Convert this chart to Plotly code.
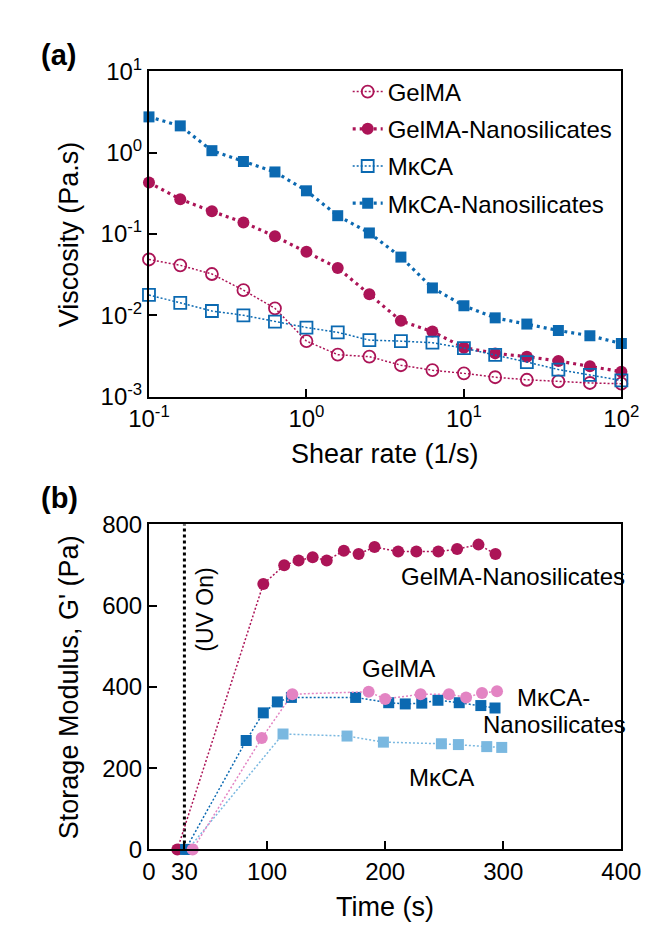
import plotly.graph_objects as go

# ---------------- Panel (a): viscosity vs shear rate ----------------
shear_rate = [0.1, 0.158, 0.251, 0.398, 0.631, 1.0, 1.58, 2.51, 3.98, 6.31,
              10.0, 15.8, 25.1, 39.8, 63.1, 100.0]
visc_gelma = [0.0486, 0.0412, 0.0322, 0.0204, 0.0122, 0.00482, 0.00328, 0.0031,
              0.00243, 0.00211, 0.00193, 0.00173, 0.00161, 0.00154, 0.00147, 0.00144]
visc_gelma_nano = [0.43, 0.268, 0.19, 0.139, 0.0937, 0.0605, 0.0383, 0.0181,
                   0.00855, 0.0063, 0.0040, 0.0034, 0.0031, 0.00274, 0.00236, 0.00202]
visc_mkca = [0.0178, 0.0142, 0.0113, 0.0100, 0.00834, 0.00707, 0.00617, 0.00495,
             0.00481, 0.0046, 0.00394, 0.00325, 0.00266, 0.00215, 0.00185, 0.00158]
visc_mkca_nano = [2.76, 2.14, 1.06, 0.78, 0.58, 0.34, 0.168, 0.103,
                  0.052, 0.0217, 0.0131, 0.0093, 0.0078, 0.0065, 0.0056, 0.0045]

visc_tickvals = [1e-3, 1e-2, 1e-1, 1, 10]
visc_ticktext = ["10<sup>-3</sup>", "10<sup>-2</sup>", "10<sup>-1</sup>", "10<sup>0</sup>", "10<sup>1</sup>"]
rate_tickvals = [0.1, 1, 10, 100]
rate_ticktext = ["10<sup>-1</sup>", "10<sup>0</sup>", "10<sup>1</sup>", "10<sup>2</sup>"]

# ---------------- Panel (b): storage modulus vs time ----------------
t_gelma_nano = [24, 96.8, 114.5, 126.7, 138.6, 150.5, 165, 177.5, 191, 211, 226.4, 245, 260.9, 279, 293.4]
g_gelma_nano = [0, 653, 699, 711, 719, 711, 735, 727, 744, 733, 733, 733, 739, 750, 727]
t_gelma = [37, 95.5, 121.4, 186, 200, 230, 254, 268.5, 282, 294.7]
g_gelma = [0, 274, 382, 388, 370, 382, 382, 374, 385, 389]
t_mkca_nano = [31, 82.3, 96.8, 108.7, 120.6, 175, 203, 217, 231, 244.7, 262.7, 281, 293]
g_mkca_nano = [0, 268, 336, 363, 374, 374, 361, 358, 360, 367, 361, 354, 348]
t_mkca = [33, 113.5, 167.7, 198.5, 247.6, 262, 286, 298.7]
g_mkca = [0, 284, 279, 264, 260, 258, 253, 251]

uv_on_time = 30
time_tickvals = [0, 30, 100, 200, 300, 400]
g_tickvals = [0, 200, 400, 600, 800]

CRIMSON = "#AC1457"
BLUE = "#0B69B1"
LIGHTBLUE = "#7AB8E0"
PINK = "#E384C3"
FONT = "Arial, Liberation Sans, sans-serif"

fig = go.Figure()

# panel a traces
fig.add_trace(go.Scatter(
    x=shear_rate, y=visc_gelma, name="GelMA", mode="lines+markers",
    line=dict(color=CRIMSON, width=1.5, dash="2px,2px"),
    marker=dict(symbol="circle-open", size=12, color=CRIMSON, line=dict(width=1.8)),
    xaxis="x", yaxis="y", cliponaxis=False, legendgroup="a1"))
fig.add_trace(go.Scatter(
    x=shear_rate, y=visc_gelma_nano, name="GelMA-Nanosilicates", mode="lines+markers",
    line=dict(color=CRIMSON, width=3.2, dash="3px,4px"),
    marker=dict(symbol="circle", size=12, color=CRIMSON),
    xaxis="x", yaxis="y", cliponaxis=False, legendgroup="a2"))
fig.add_trace(go.Scatter(
    x=shear_rate, y=visc_mkca, name="M\u03baCA", mode="lines+markers",
    line=dict(color=BLUE, width=1.5, dash="2px,2px"),
    marker=dict(symbol="square-open", size=12, color=BLUE, line=dict(width=1.8)),
    xaxis="x", yaxis="y", cliponaxis=False, legendgroup="a3"))
fig.add_trace(go.Scatter(
    x=shear_rate, y=visc_mkca_nano, name="M\u03baCA-Nanosilicates", mode="lines+markers",
    line=dict(color=BLUE, width=3.2, dash="3px,4px"),
    marker=dict(symbol="square", size=11, color=BLUE),
    xaxis="x", yaxis="y", cliponaxis=False, legendgroup="a4"))

# panel b traces
fig.add_trace(go.Scatter(
    x=[uv_on_time, uv_on_time], y=[0, 800], mode="lines",
    line=dict(color="black", width=3, dash="3px,3px"),
    xaxis="x2", yaxis="y2", showlegend=False, hoverinfo="skip"))
fig.add_trace(go.Scatter(
    x=t_gelma_nano, y=g_gelma_nano, mode="lines+markers", showlegend=False,
    line=dict(color=CRIMSON, width=1.5, dash="2px,2px"),
    marker=dict(symbol="circle", size=12, color=CRIMSON),
    xaxis="x2", yaxis="y2", cliponaxis=False))
fig.add_trace(go.Scatter(
    x=t_mkca, y=g_mkca, mode="lines+markers", showlegend=False,
    line=dict(color=LIGHTBLUE, width=1.5, dash="2px,2px"),
    marker=dict(symbol="square", size=11, color=LIGHTBLUE),
    xaxis="x2", yaxis="y2", cliponaxis=False))
fig.add_trace(go.Scatter(
    x=t_mkca_nano, y=g_mkca_nano, mode="lines+markers", showlegend=False,
    line=dict(color=BLUE, width=1.5, dash="2px,2px"),
    marker=dict(symbol="square", size=11, color=BLUE),
    xaxis="x2", yaxis="y2", cliponaxis=False))
fig.add_trace(go.Scatter(
    x=t_gelma, y=g_gelma, mode="lines+markers", showlegend=False,
    line=dict(color=PINK, width=1.5, dash="2px,2px"),
    marker=dict(symbol="circle", size=12, color=PINK),
    xaxis="x2", yaxis="y2", cliponaxis=False))

W, H = 654, 927
def px_x(p):
    return p / W
def px_y(p):
    return 1 - p / H

axis_common = dict(showline=True, linecolor="black", linewidth=2, mirror=True,
                   ticks="inside", ticklen=8, tickwidth=2, tickcolor="black",
                   showgrid=False, zeroline=False,
                   tickfont=dict(family=FONT, size=24, color="black"))

fig.update_layout(
    width=W, height=H,
    margin=dict(l=0, r=0, t=0, b=0),
    paper_bgcolor="white", plot_bgcolor="white",
    font=dict(family=FONT, color="black"),
    xaxis=dict(type="log", range=[-1, 2], domain=[px_x(128), px_x(632)], anchor="y",
               tickmode="array", tickvals=rate_tickvals, ticktext=rate_ticktext, **axis_common),
    yaxis=dict(type="log", range=[-3, 1], domain=[px_y(384), px_y(48)], anchor="x",
               tickmode="array", tickvals=visc_tickvals, ticktext=visc_ticktext, **axis_common),
    xaxis2=dict(range=[0, 400], domain=[px_x(128), px_x(632)], anchor="y2",
                tickmode="array", tickvals=time_tickvals, **axis_common),
    yaxis2=dict(range=[0, 800], domain=[px_y(852), px_y(516)], anchor="x2",
                tickmode="array", tickvals=g_tickvals, **axis_common),
    legend=dict(x=px_x(340), y=px_y(46), xanchor="left", yanchor="top",
                bgcolor="rgba(0,0,0,0)", tracegroupgap=3,
                font=dict(family=FONT, size=24, color="black")),
    showlegend=True,
)

ann = [
    dict(text="<b>(a)</b>", x=px_x(32), y=px_y(31), size=29),
    dict(text="<b>(b)</b>", x=px_x(33), y=px_y(489), size=29),
    dict(text="Shear rate (1/s)", x=px_x(380), y=px_y(443), size=27),
    dict(text="Time (s)", x=px_x(380), y=px_y(911), size=27),
    dict(text="Viscosity (Pa.s)", x=px_x(43), y=px_y(216), size=27, angle=-90),
    dict(text="Storage Modulus, G' (Pa)", x=px_x(43), y=px_y(684), size=27, angle=-90),
    dict(text="(UV On)", x=px_x(188), y=px_y(604), size=23, angle=-90),
    dict(text="GelMA-Nanosilicates", x=px_x(516), y=px_y(570), size=24),
    dict(text="GelMA", x=px_x(394), y=px_y(665), size=24),
    dict(text="M\u03baCA-", x=px_x(560), y=px_y(695), size=24),
    dict(text="Nanosilicates", x=px_x(561), y=px_y(723), size=24),
    dict(text="M\u03baCA", x=px_x(440), y=px_y(778), size=24),
]
for a in ann:
    fig.add_annotation(text=a["text"], x=a["x"], y=a["y"], xref="paper", yref="paper",
                       xanchor="center", yanchor="middle", showarrow=False,
                       textangle=a.get("angle", 0),
                       font=dict(family=FONT, size=a["size"], color="black"))

fig.write_html("out.html")
